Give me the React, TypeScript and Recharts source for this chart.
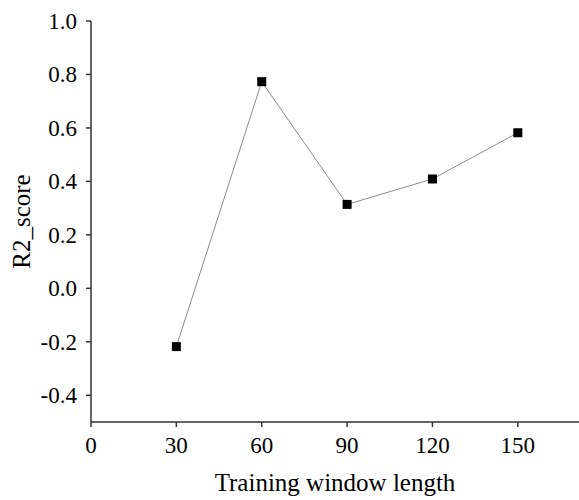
import React from 'react';
import { LineChart, Line, XAxis, YAxis } from 'recharts';

const windowLengths = [30, 60, 90, 120, 150];
const r2Scores = [-0.218, 0.773, 0.314, 0.409, 0.582];
const xTicks = [0, 30, 60, 90, 120, 150];
const yTicks = [-0.4, -0.2, 0.0, 0.2, 0.4, 0.6, 0.8, 1.0];

const data = windowLengths.map((w, i) => ({ window: w, score: r2Scores[i] }));

const FONT = '"Liberation Serif", "Times New Roman", serif';
const AXIS = '#333';
const tickStyle = { fill: '#000', fontSize: 23, fontFamily: FONT };

const SquareDot = (props: any) => {
  const { cx, cy } = props;
  if (cx == null || cy == null) return null;
  return <rect x={cx - 4.5} y={cy - 4.5} width={9} height={9} fill="#000" />;
};

function XTick(props: any) {
  const { x, y, payload } = props;
  return (
    <g transform={`translate(${x},${y})`}>
      <text x={0} y={0} dy={17} textAnchor="middle" style={tickStyle}>
        {payload.value}
      </text>
    </g>
  );
}

function YTick(props: any) {
  const { x, y, payload } = props;
  return (
    <g transform={`translate(${x},${y})`}>
      <text x={0} y={0} dy={8} textAnchor="end" style={tickStyle}>
        {Number(payload.value).toFixed(1)}
      </text>
    </g>
  );
}

export default function App() {
  return (
    <div style={{ position: 'absolute', left: 0, top: 0, background: '#fff' }}>
      <LineChart
        width={579}
        height={500}
        data={data}
        margin={{ top: 21, right: 0, left: 0, bottom: 0 }}
      >
        <XAxis
          dataKey="window"
          type="number"
          domain={[0, 171.5]}
          ticks={xTicks}
          allowDataOverflow
          height={78}
          tickSize={5}
          tickMargin={9}
          stroke={AXIS}
          strokeWidth={1.5}
          tick={XTick}
          label={{
            value: 'Training window length',
            position: 'insideBottom',
            offset: 9,
            style: { fill: '#000', fontSize: 25, fontFamily: FONT },
          }}
        />
        <YAxis
          dataKey="score"
          type="number"
          domain={[-0.5, 1.0]}
          ticks={yTicks}
          allowDataOverflow
          width={91}
          tickSize={5}
          tickMargin={9}
          stroke={AXIS}
          strokeWidth={1.5}
          tick={YTick}
          label={{
            value: 'R2_score',
            angle: -90,
            position: 'insideLeft',
            offset: 21,
            style: { fill: '#000', fontSize: 25, fontFamily: FONT, textAnchor: 'middle' },
          }}
        />
        <Line
          type="linear"
          dataKey="score"
          stroke="#8c8c8c"
          strokeWidth={1}
          dot={<SquareDot />}
          activeDot={false}
          isAnimationActive={false}
        />
      </LineChart>
    </div>
  );
}
